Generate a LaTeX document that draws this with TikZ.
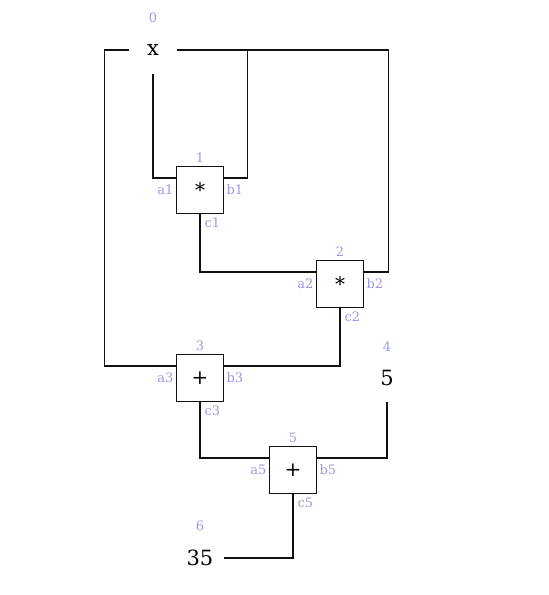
\documentclass[tikz,border=0pt]{standalone}
\usepackage{fontspec}
\setmainfont{DejaVu Serif}
\usepackage{tikz}
\usetikzlibrary{calc,positioning}
\definecolor{Port}{HTML}{9A9AE6}
\definecolor{Wire}{HTML}{111111}

\begin{document}
\begin{tikzpicture}[x=1pt,y=-1pt,line width=1.1pt,
    op/.style={draw=Wire,fill=white,minimum size=47pt,inner sep=0pt,
               font=\fontsize{20}{22}\selectfont},
    val/.style={minimum width=46pt,minimum height=46pt,inner sep=0pt,
                font=\fontsize{21}{24}\selectfont},
    tag/.style={text=Port,inner sep=2pt,font=\fontsize{13}{15}\selectfont}]
  \useasboundingbox (0,0) rectangle (549,595);

  % values
  \node[val] (x) at (153,50) {x};
  \node[val] (five) at (387,378) {5};
  \node[val] (res) at (200,558) {35};
  \node[tag,above=1pt of x] {0};
  \node[tag,above=0pt of five] {4};
  \node[tag,above=1pt of res] {6};

  % operations
  \node[op] (op1) at (200,190) {*};
  \node[op] (op2) at (340,284) {*};
  \node[op] (op3) at (200,378) {+};
  \node[op] (op5) at (293,470) {+};

  \foreach \n/\k in {op1/1,op2/2,op3/3,op5/5}{
    \node[tag,above=1pt of \n] {\k};
    \node[tag,left=0pt of \n] (a\k) {a\k};
    \node[tag,right=0pt of \n] (b\k) {b\k};
    \node[tag,below right=1pt and 2pt of \n.south] (c\k) {c\k};
  }

  % wires
  \draw[Wire] (x.west) -- ++(-25,0) |- ([yshift=12pt]op3.west);
  \draw[Wire] (x.east) -| ([xshift=23pt,yshift=12pt]op1.east) -- ([yshift=12pt]op1.east);
  \draw[Wire] (x.east) -| ([xshift=24pt,yshift=12pt]op2.east) -- ([yshift=12pt]op2.east);
  \draw[Wire] (x.south) |- ([yshift=12pt]op1.west);
  \draw[Wire] (op1.south) |- ([yshift=12pt]op2.west);
  \draw[Wire] (op2.south) |- ([yshift=12pt]op3.east);
  \draw[Wire] (op3.south) |- ([yshift=12pt]op5.west);
  \draw[Wire] (five.south) |- ([yshift=12pt]op5.east);
  \draw[Wire] (op5.south) |- (res.east);
\end{tikzpicture}
\end{document}
